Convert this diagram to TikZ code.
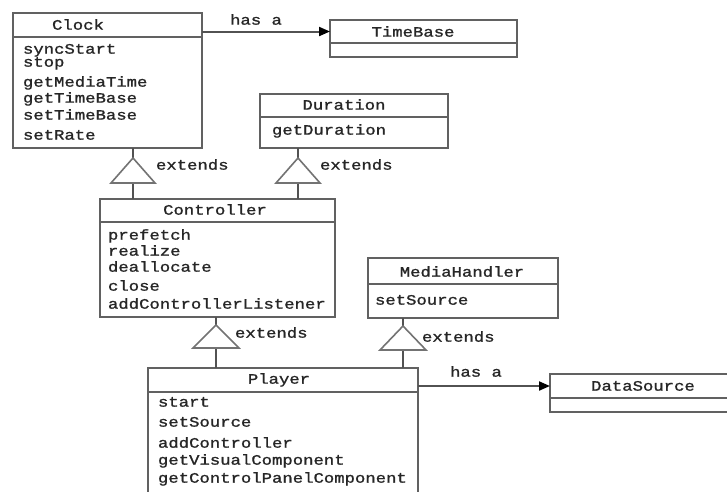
\documentclass[tikz,border=0pt]{standalone}
\usepackage{fontspec}
\setmonofont[FakeStretch=1.2,FakeBold=1.2]{Liberation Mono}
\usetikzlibrary{arrows.meta}
\begin{document}
\begin{tikzpicture}[x=1pt,y=-1pt,
  every node/.style={font=\ttfamily\fontsize{14.4}{16}\selectfont, text=black!85, inner sep=0pt, outer sep=0pt},
  classbox/.style={draw=black!62, line width=2pt, fill=white, anchor=north west},
  conn/.style={draw=black!68, line width=2pt},
  tri/.style={draw=black!55, line width=1.6pt, fill=white, line join=miter},
  hasa/.style={conn, -{Triangle[length=11pt,width=9pt,fill=black,color=black]}},
  meth/.style={anchor=mid west, yshift=-2.5pt},
  ttl/.style={anchor=mid, yshift=-2.5pt},
  lbl/.style={anchor=mid west, yshift=-2.5pt}]
\useasboundingbox (0,0) rectangle (727,491);
\clip (0,0) rectangle (727,491);

% ---- class boxes: title band + body ----
\node[classbox, minimum width=189pt, minimum height=24pt] (clockT) at (13,13) {};
\node[classbox, minimum width=189pt, minimum height=111pt] (clock) at (13,37) {};

\node[classbox, minimum width=187pt, minimum height=23pt] (timebaseT) at (330,20) {};
\node[classbox, minimum width=187pt, minimum height=14pt] (timebase) at (330,43) {};

\node[classbox, minimum width=188pt, minimum height=23pt] (durationT) at (260,94) {};
\node[classbox, minimum width=188pt, minimum height=31pt] (duration) at (260,117) {};

\node[classbox, minimum width=235pt, minimum height=23pt] (controllerT) at (100,199) {};
\node[classbox, minimum width=235pt, minimum height=95pt] (controller) at (100,222) {};

\node[classbox, minimum width=190pt, minimum height=26pt] (mediahandlerT) at (368,258) {};
\node[classbox, minimum width=190pt, minimum height=34pt] (mediahandler) at (368,284) {};

\node[classbox, minimum width=270pt, minimum height=24pt] (playerT) at (148,368) {};
\node[classbox, minimum width=270pt, minimum height=130pt] (player) at (148,392) {};

\node[classbox, minimum width=190pt, minimum height=24pt] (datasourceT) at (550,374) {};
\node[classbox, minimum width=190pt, minimum height=14pt] (datasource) at (550,398) {};

% ---- class names ----
\node[ttl] (clockname) at (78,25) {Clock};
\node[ttl] (timebasename) at (413,32) {TimeBase};
\node[ttl] (durationname) at (344,105) {Duration};
\node[ttl] (controllername) at (215,210) {Controller};
\node[ttl] (mediahandlername) at (462,272) {MediaHandler};
\node[ttl] (playername) at (279,379) {Player};
\node[ttl] (datasourcename) at (643,386) {DataSource};

% ---- methods ----
\foreach \m/\y [count=\i] in {syncStart/49,stop/62,getMediaTime/82,getTimeBase/98,setTimeBase/115,setRate/135}
  \node[meth] (clockm\i) at (23,\y) {\m};
\node[meth] (durationm1) at (272,130) {getDuration};
\foreach \m/\y [count=\i] in {prefetch/235,realize/251,deallocate/267,close/286,addControllerListener/304}
  \node[meth] (controllerm\i) at (108,\y) {\m};
\node[meth] (mediahandlerm1) at (375,300) {setSource};
\foreach \m/\y [count=\i] in {start/402,setSource/422,addController/443,getVisualComponent/460,getControlPanelComponent/478}
  \node[meth] (playerm\i) at (158,\y) {\m};

% ---- "has a" associations ----
\draw[hasa] (clockT.east |- timebaseT.west) -- (timebaseT.west);
\node[ttl] (hasa1) at (256,20) {has a};
\draw[hasa] (playerT.east |- datasourceT.west) -- (datasourceT.west);
\node[ttl] (hasa2) at (476,372) {has a};

% ---- "extends" generalisations ----
\coordinate (t1) at (133,158); \coordinate (b1) at (133,183);
\coordinate (t2) at (298,158); \coordinate (b2) at (298,183);
\coordinate (t3) at (216,325); \coordinate (b3) at (216,348);
\coordinate (t4) at (403,326); \coordinate (b4) at (403,350);

\draw[conn] (clock.south -| t1) -- (t1);
\draw[conn] (b1) -- (controllerT.north -| b1);
\draw[conn] (duration.south -| t2) -- (t2);
\draw[conn] (b2) -- (controllerT.north -| b2);
\draw[conn] (controller.south -| t3) -- (t3);
\draw[conn] (b3) -- (playerT.north -| b3);
\draw[conn] (mediahandler.south -| t4) -- (t4);
\draw[conn] (b4) -- (playerT.north -| b4);

\draw[tri] (t1) -- ++(-22,25) -- ++(44,0) -- cycle;
\draw[tri] (t2) -- ++(-22,25) -- ++(44,0) -- cycle;
\draw[tri] (t3) -- ++(-23,23) -- ++(46,0) -- cycle;
\draw[tri] (t4) -- ++(-23,24) -- ++(46,0) -- cycle;

\node[lbl] (ext1) at (156,165) {extends};
\node[lbl] (ext2) at (320,165) {extends};
\node[lbl] (ext3) at (235,333) {extends};
\node[lbl] (ext4) at (422,337) {extends};
\end{tikzpicture}
\end{document}
